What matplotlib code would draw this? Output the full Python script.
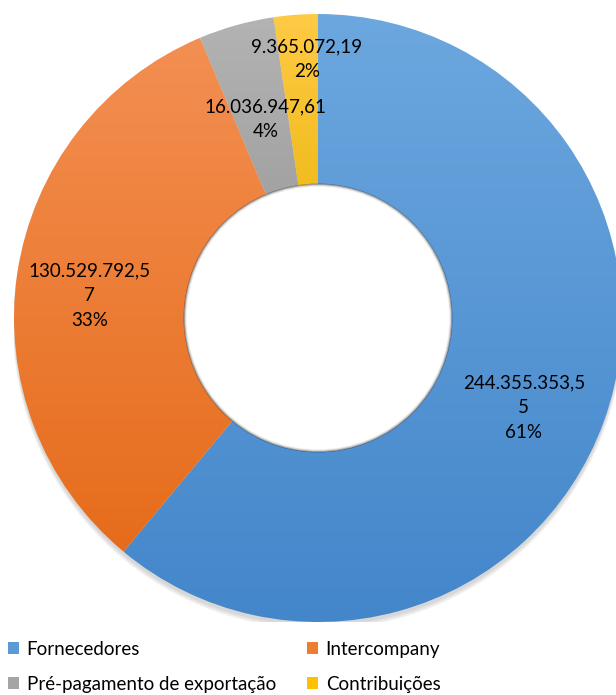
import textwrap
import numpy as np
import matplotlib
matplotlib.use('Agg')
import matplotlib.pyplot as plt
from matplotlib.colors import LinearSegmentedColormap
from matplotlib.patches import Circle, Patch

plt.rcParams['font.family'] = ['Lato', 'DejaVu Sans']

# dados
categorias = ['Fornecedores', 'Intercompany', 'Pré-pagamento de exportação', 'Contribuições']
valores = [244355353.55, 130529792.57, 16036947.61, 9365072.19]
cor_base = ['#5B9BD5', '#ED7D31', '#A5A5A5', '#FFC000']
cor_clara = ['#6CA7DF', '#F38F52', '#B3B3B3', '#FFCA45']
cor_escura = ['#4386CA', '#E66C1B', '#979797', '#E6B200']
# posicao dos rotulos: distancia ao centro (raio externo = 1) e ajustes
dist_rotulo = [0.72, 0.77, 0.68, 0.86]
ajuste_x = [0.0, 0.01, 0.01, 0.027]
ajuste_y = [-0.05, -0.04, 0.0, -0.005]


def fmt_br(v):
    s = '{:,.2f}'.format(v)
    return s.replace(',', 'X').replace('.', ',').replace('X', '.')


W, H = 616, 695
cx, cy, R = 318, 318, 304   # centro e raio em pixels

fig = plt.figure(figsize=(W / 100, H / 100), dpi=100)
ax = fig.add_axes([(cx - R) / W, (H - cy - R) / H, 2 * R / W, 2 * R / H])

# sombra suave por baixo do anel
for i, a in enumerate([0.05, 0.05, 0.06]):
    ax.add_patch(Circle((0, -0.012 - 0.004 * i), 1.0 + 0.002 * i, color='black', alpha=a, lw=0, zorder=0))

wedges, _ = ax.pie(valores, radius=1, startangle=90, counterclock=False,
                   colors=cor_base, wedgeprops=dict(width=0.56, linewidth=0))

# preenchimento em degradê (claro em cima, escuro em baixo), como no Excel
grad = np.linspace(0, 1, 256).reshape(-1, 1)
for w, c1, c2 in zip(wedges, cor_clara, cor_escura):
    w.set_zorder(1)
    v = w.get_patch_transform().transform(w.get_path().vertices)
    x0, x1 = v[:, 0].min(), v[:, 0].max()
    y0, y1 = v[:, 1].min(), v[:, 1].max()
    cmap = LinearSegmentedColormap.from_list('g', [c2, c1])
    im = ax.imshow(grad, extent=[x0, x1, y0, y1], origin='lower', cmap=cmap,
                   aspect='auto', zorder=2, interpolation='bilinear')
    im.set_clip_path(w)
    w.set_facecolor('none')

# furo branco com sombra interna
r_in = 1 - 0.56
ax.add_patch(Circle((0, 0), r_in, color='white', lw=0, zorder=2.5))
for i, a in enumerate([0.30, 0.14, 0.06]):
    ax.add_patch(Circle((0, 0), r_in - 0.003 * i, fill=False, ec='black', lw=1.0, alpha=a, zorder=3))

# rotulos de dados
total = sum(valores)
inicio = 0.0
for v, d, dx, dy in zip(valores, dist_rotulo, ajuste_x, ajuste_y):
    meio = inicio + v / 2
    ang = np.deg2rad(90 - 360 * meio / total)
    inicio += v
    txt = '\n'.join(textwrap.wrap(fmt_br(v), 13)) + '\n{:.0f}%'.format(100 * v / total)
    ax.text(d * np.cos(ang) + dx, d * np.sin(ang) + dy, txt, ha='center', va='center',
            fontsize=13.5, linespacing=1.55, color='black', zorder=5)

ax.set_xlim(-1, 1)
ax.set_ylim(-1, 1)
ax.set_aspect('equal')
ax.axis('off')

# legenda em duas linhas
handles = [Patch(facecolor=c, edgecolor='none') for c in cor_base]
ordem = [0, 2, 1, 3]
fig.legend([handles[i] for i in ordem], [categorias[i] for i in ordem],
           loc='upper left', bbox_to_anchor=(8 / W, 1 - 641 / H), ncol=2,
           frameon=False, fontsize=13.5, handlelength=0.6, handleheight=0.6,
           handletextpad=0.4, columnspacing=1.65, labelspacing=0.95,
           borderaxespad=0, borderpad=0)

fig.savefig('out.png', dpi=100)
